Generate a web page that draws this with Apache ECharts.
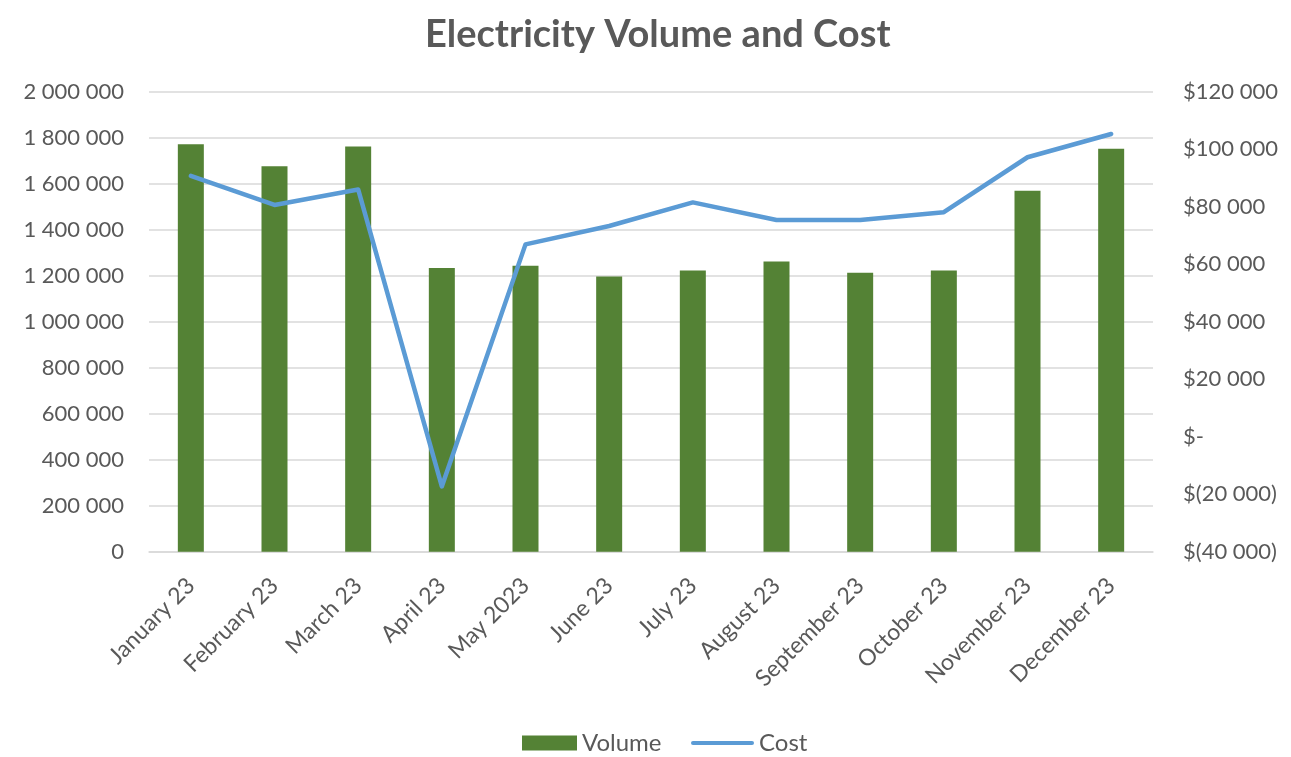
<!DOCTYPE html>
<html>
<head>
<meta charset="utf-8">
<script src="https://cdn.jsdelivr.net/npm/echarts@6/dist/echarts.min.js"></script>
<style>
html,body{margin:0;padding:0;background:#fff;}
#chart{width:1291px;height:757px;}
</style>
</head>
<body>
<div id="chart"></div>
<script>
const categories = ["January 23","February 23","March 23","April 23","May 2023","June 23","July 23","August 23","September 23","October 23","November 23","December 23"];
const volume = [1772000,1676000,1762000,1234000,1243000,1196000,1223000,1262000,1213000,1223000,1569000,1752000];
const cost = [90700,80600,86000,-17300,66900,73300,81500,75400,75400,78100,97200,105300];

const FONT = 'Lato';
const TXT = '#595959';

function spaced(n){
  return Math.round(Math.abs(n)).toString().replace(/\B(?=(\d{3})+(?!\d))/g,' ');
}

const chart = echarts.init(document.getElementById('chart'), null, {renderer:'canvas'});
chart.setOption({
  animation:false,
  backgroundColor:'#ffffff',
  title:{
    text:'Electricity Volume and Cost',
    left:420,
    top:11,
    textStyle:{fontFamily:FONT,fontSize:38,fontWeight:'bold',color:TXT}
  },
  legend:[
    {
      top:726,
      left:517,
      itemWidth:55,
      itemHeight:15,
      textStyle:{fontFamily:FONT,fontSize:24,color:TXT},
      data:[{name:'Volume',icon:'rect'}]
    },
    {
      top:726,
      left:686,
      itemWidth:63,
      itemHeight:15,
      textStyle:{fontFamily:FONT,fontSize:24,color:TXT},
      data:[{name:'Cost',icon:'path://M2,0L61,0A2,2 0 0 1 61,4L2,4A2,2 0 0 1 2,0Z'}]
    }
  ],
  grid:{left:149,right:138,top:91.7,bottom:205.3,containLabel:false},
  xAxis:{
    type:'category',
    data:categories,
    axisLine:{lineStyle:{color:'#d9d9d9',width:1.5}},
    axisTick:{show:false},
    axisLabel:{rotate:45,margin:30,fontFamily:FONT,fontSize:23,color:TXT,interval:0}
  },
  yAxis:[
    {
      type:'value',min:0,max:2000000,interval:200000,
      axisLine:{show:false},axisTick:{show:false},
      splitLine:{lineStyle:{color:'#d9d9d9',width:1.5}},
      axisLabel:{margin:25,fontFamily:FONT,fontSize:22,color:TXT,formatter:v=>spaced(v)}
    },
    {
      type:'value',min:-40000,max:120000,interval:20000,position:'right',
      axisLine:{show:false},axisTick:{show:false},splitLine:{show:false},
      axisLabel:{margin:30,fontFamily:FONT,fontSize:22,color:TXT,
        formatter:v=>{ if(v===0) return '$-'; if(v<0) return '$('+spaced(v)+')'; return '$'+spaced(v);} }
    }
  ],
  series:[
    {
      name:'Volume',type:'bar',data:volume,barWidth:26,
      itemStyle:{color:'#548235'}
    },
    {
      name:'Cost',type:'line',yAxisIndex:1,data:cost,symbol:'none',
      lineStyle:{color:'#5B9BD5',width:4.5,cap:'round',join:'round'},
      itemStyle:{color:'#5B9BD5'}
    }
  ]
});
</script>
</body>
</html>
